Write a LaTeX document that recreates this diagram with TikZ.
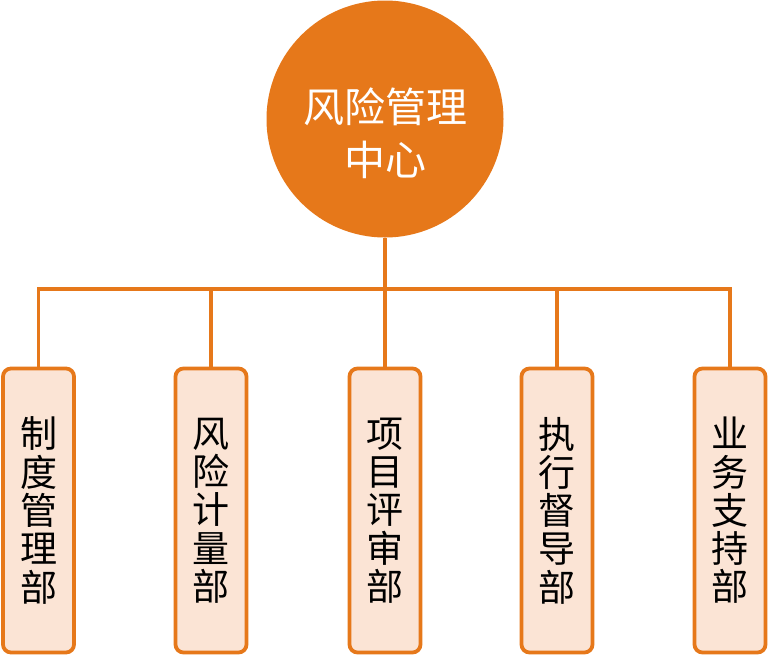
\documentclass[tikz,border=0pt]{standalone}
\usepackage{fontspec}
\newfontfamily\cjk{Noto Sans CJK SC}
\usetikzlibrary{positioning,calc}
\definecolor{riskorange}{HTML}{E6781A}
\definecolor{riskpeach}{HTML}{FBE4D5}
\tikzset{
  hub/.style={circle,fill=riskorange,draw=none,minimum size=237pt,inner sep=0pt},
  hubtext/.style={text=white,align=center,inner sep=0pt,
    font=\cjk\fontsize{41}{53}\selectfont},
  dept/.style={draw=riskorange,fill=riskpeach,line width=3.8pt,rounded corners=8pt,
    minimum width=71pt,minimum height=284pt,inner sep=0pt,align=center,
    font=\cjk\fontsize{37}{38.3}\selectfont},
  link/.style={draw=riskorange,line width=3.3pt}
}
\begin{document}
\begin{tikzpicture}[x=1pt,y=-1pt]
		\useasboundingbox (0,0) rectangle (769,657);
		\node[hub] (center) at (385,119) {};
		\node[hubtext] (centerlabel) at ($(center)+(0,14)$) {风险管理\\中心};
		\coordinate (bus) at (385,289);
		
		\node[dept] (zhidu) at (38.5,510.5) {制\\度\\管\\理\\部};
		\node[dept] (jiliang) at (211,510.5) {风\\险\\计\\量\\部};
		\node[dept] (xiangmu) at (385,510.5) {项\\目\\评\\审\\部};
		\node[dept] (dudao) at (557,510.5) {执\\行\\督\\导\\部};
		\node[dept] (zhichi) at (730,510.5) {业\\务\\支\\持\\部};
		
		\draw[link] (center.south) -- (bus);
		\draw[link,line cap=rect] (zhidu.north |- bus) -- (zhichi.north |- bus);
		\draw[link] (zhidu.north |- bus) -- (zhidu.north);
		\draw[link] (jiliang.north |- bus) -- (jiliang.north);
		\draw[link] (xiangmu.north |- bus) -- (xiangmu.north);
		\draw[link] (dudao.north |- bus) -- (dudao.north);
		\draw[link] (zhichi.north |- bus) -- (zhichi.north);
	\end{tikzpicture}
\end{document}
